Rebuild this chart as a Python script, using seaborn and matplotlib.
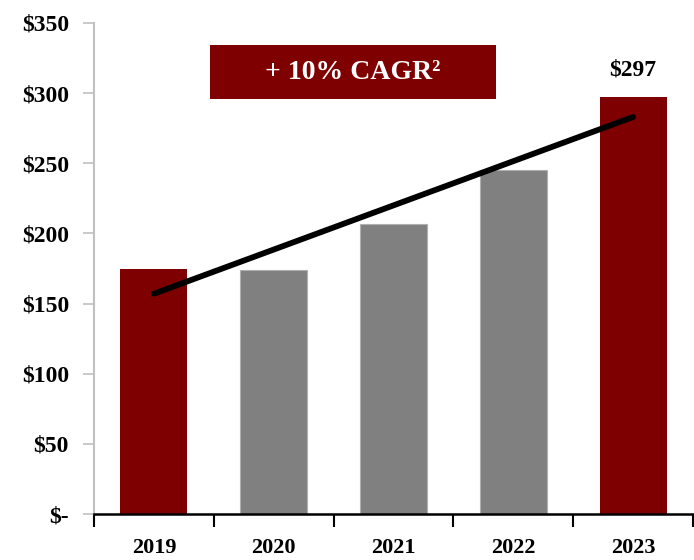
import matplotlib
matplotlib.use("Agg")
import matplotlib.pyplot as plt
import seaborn as sns
import pandas as pd
from matplotlib.patches import Rectangle

years = ["2019", "2020", "2021", "2022", "2023"]
revenue = [175, 174, 207, 245, 297]
bar_colors = ["#7f0000", "#808080", "#808080", "#808080", "#7f0000"]
trend_years = [0, 4]          # positions of 2019 and 2023 on the category axis
trend_values = [157, 283]
y_ticks = [0, 50, 100, 150, 200, 250, 300, 350]
y_labels = ["$-", "$50", "$100", "$150", "$200", "$250", "$300", "$350"]
cagr_text = "+ 10% CAGR²"
last_label = "$297"

sns.set_theme(style="white")
plt.rcParams["font.family"] = ["Liberation Serif", "DejaVu Serif"]
plt.rcParams["font.weight"] = "bold"

df = pd.DataFrame({"year": years, "revenue": revenue})

fig = plt.figure(figsize=(6.94, 5.60), dpi=100)
ax = fig.add_axes([94 / 694, 1 - 514 / 560, 599 / 694, 491 / 560])

sns.barplot(data=df, x="year", y="revenue", hue="year", palette=bar_colors,
            legend=False, width=0.56, saturation=1, ax=ax,
            edgecolor="none", linewidth=0)
# light outline on the grey bars
for patch, c in zip(ax.patches, bar_colors):
    if c == "#808080":
        patch.set_edgecolor("#b0b0b0")
        patch.set_linewidth(0.8)

ax.plot(trend_years, trend_values, color="black", lw=4.2,
        solid_capstyle="round", zorder=5)

ax.set_xlim(-0.5, 4.5)
ax.set_ylim(0, 350)
ax.set_xlabel("")
ax.set_ylabel("")

ax.set_yticks(y_ticks)
ax.set_yticklabels(y_labels)
ax.tick_params(axis="y", which="major", direction="out", length=8, width=1.2,
               color="#c0c0c0", pad=10, labelsize=17, left=True)

ax.set_xticks(range(len(years)))
ax.set_xticklabels(years)
ax.set_xticks([i - 0.5 for i in range(len(years) + 1)], minor=True)
ax.tick_params(axis="x", which="major", length=0, pad=17, labelsize=16)
ax.tick_params(axis="x", which="minor", direction="out", length=9, width=1.5,
               color="black", bottom=True)

for lab in ax.get_xticklabels() + ax.get_yticklabels():
    lab.set_fontweight("bold")
    lab.set_color("black")

for side in ["top", "right"]:
    ax.spines[side].set_visible(False)
ax.spines["left"].set_color("#c0c0c0")
ax.spines["left"].set_linewidth(1.5)
ax.spines["bottom"].set_color("black")
ax.spines["bottom"].set_linewidth(1.8)

# growth callout box
ax.add_patch(Rectangle((0.467, 296), 2.391, 38, facecolor="#7f0000",
                       edgecolor="none", zorder=6, clip_on=False))
ax.text(0.467 + 2.391 / 2, 315, cagr_text, color="white", fontsize=20,
        fontweight="bold", ha="center", va="center", zorder=7)

ax.text(4, revenue[-1] + 12, last_label, ha="center", va="bottom",
        fontsize=17, fontweight="bold", color="black")

fig.savefig("out.png", dpi=100, facecolor="white")
